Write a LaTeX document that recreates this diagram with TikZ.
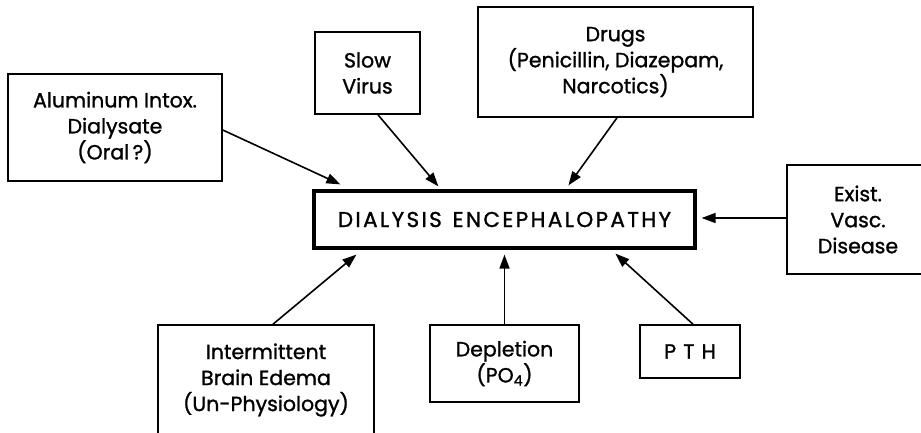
\documentclass[tikz,border=0pt]{standalone}
\usepackage{fontspec}
\setmainfont{Poppins}[FakeBold=1.2]
\usetikzlibrary{arrows.meta,calc}
\begin{document}
\begin{tikzpicture}[x=1pt,y=-1pt,
  box/.style={draw, line width=1.6pt, rectangle, align=center, inner sep=0pt,
    font=\fontsize{20.5}{26}\selectfont},
  mainbox/.style={box, line width=3.2pt, font=\fontsize{21.5}{26}\selectfont},
  arr/.style={line width=1.6pt, -{Triangle[length=14pt,width=10pt]}}]
\useasboundingbox (0,0) rectangle (921,432);
\clip (0,0) rectangle (921,432);
\node[mainbox, minimum width=381pt, minimum height=57pt] (main) at (504.5,219.5) {\addfontfeatures{LetterSpace=11}DIALYSIS\hspace{0.5em}ENCEPHALOPATHY};
\node[box, minimum width=214pt, minimum height=107pt] (alu) at (115,127.5) {Aluminum Intox.\\Dialysate\\(Oral\,?)};
\node[box, minimum width=105pt, minimum height=82pt] (slow) at (367.5,73) {Slow\\Virus};
\node[box, minimum width=275pt, minimum height=110pt] (drugs) at (615.5,62) {Drugs\\(Penicillin, Diazepam,\\Narcotics)};
\node[box, minimum width=142pt, minimum height=109pt] (exist) at (858,219.5) {Exist.\\Vasc.\\Disease};
\node[box, minimum width=216pt, minimum height=110pt] (inter) at (266,380) {Intermittent\\Brain Edema\\(Un-Physiology)};
\node[box, minimum width=149pt, minimum height=77pt] (depl) at (504.5,363.5) {Depletion\\(PO\textsubscript{4})};
\node[box, minimum width=100pt, minimum height=53pt] (pth) at (690,351.5) {P\hspace{0.35em}T\hspace{0.35em}H};
\draw[arr] ($(alu.east)+(0,2.5)$) -- ($(main.north west)+(28,-5)$);
\draw[arr] ($(slow.south)+(10.5,0)$) -- ($(main.north west)+(126,-3)$);
\draw[arr] ($(drugs.south)+(1.5,0)$) -- ($(main.north west)+(256,-4)$);
\draw[arr] ($(exist.west)+(0,-1.5)$) -- ($(main.east)+(5,-1.5)$);
\draw[arr] ($(inter.north)+(7,0)$) -- ($(main.south west)+(44,5)$);
\draw[arr] (depl.north) -- ($(main.south)+(0,5)$);
\draw[arr] ($(pth.north)+(3,0)$) -- ($(main.south west)+(303,4)$);
\end{tikzpicture}
\end{document}
